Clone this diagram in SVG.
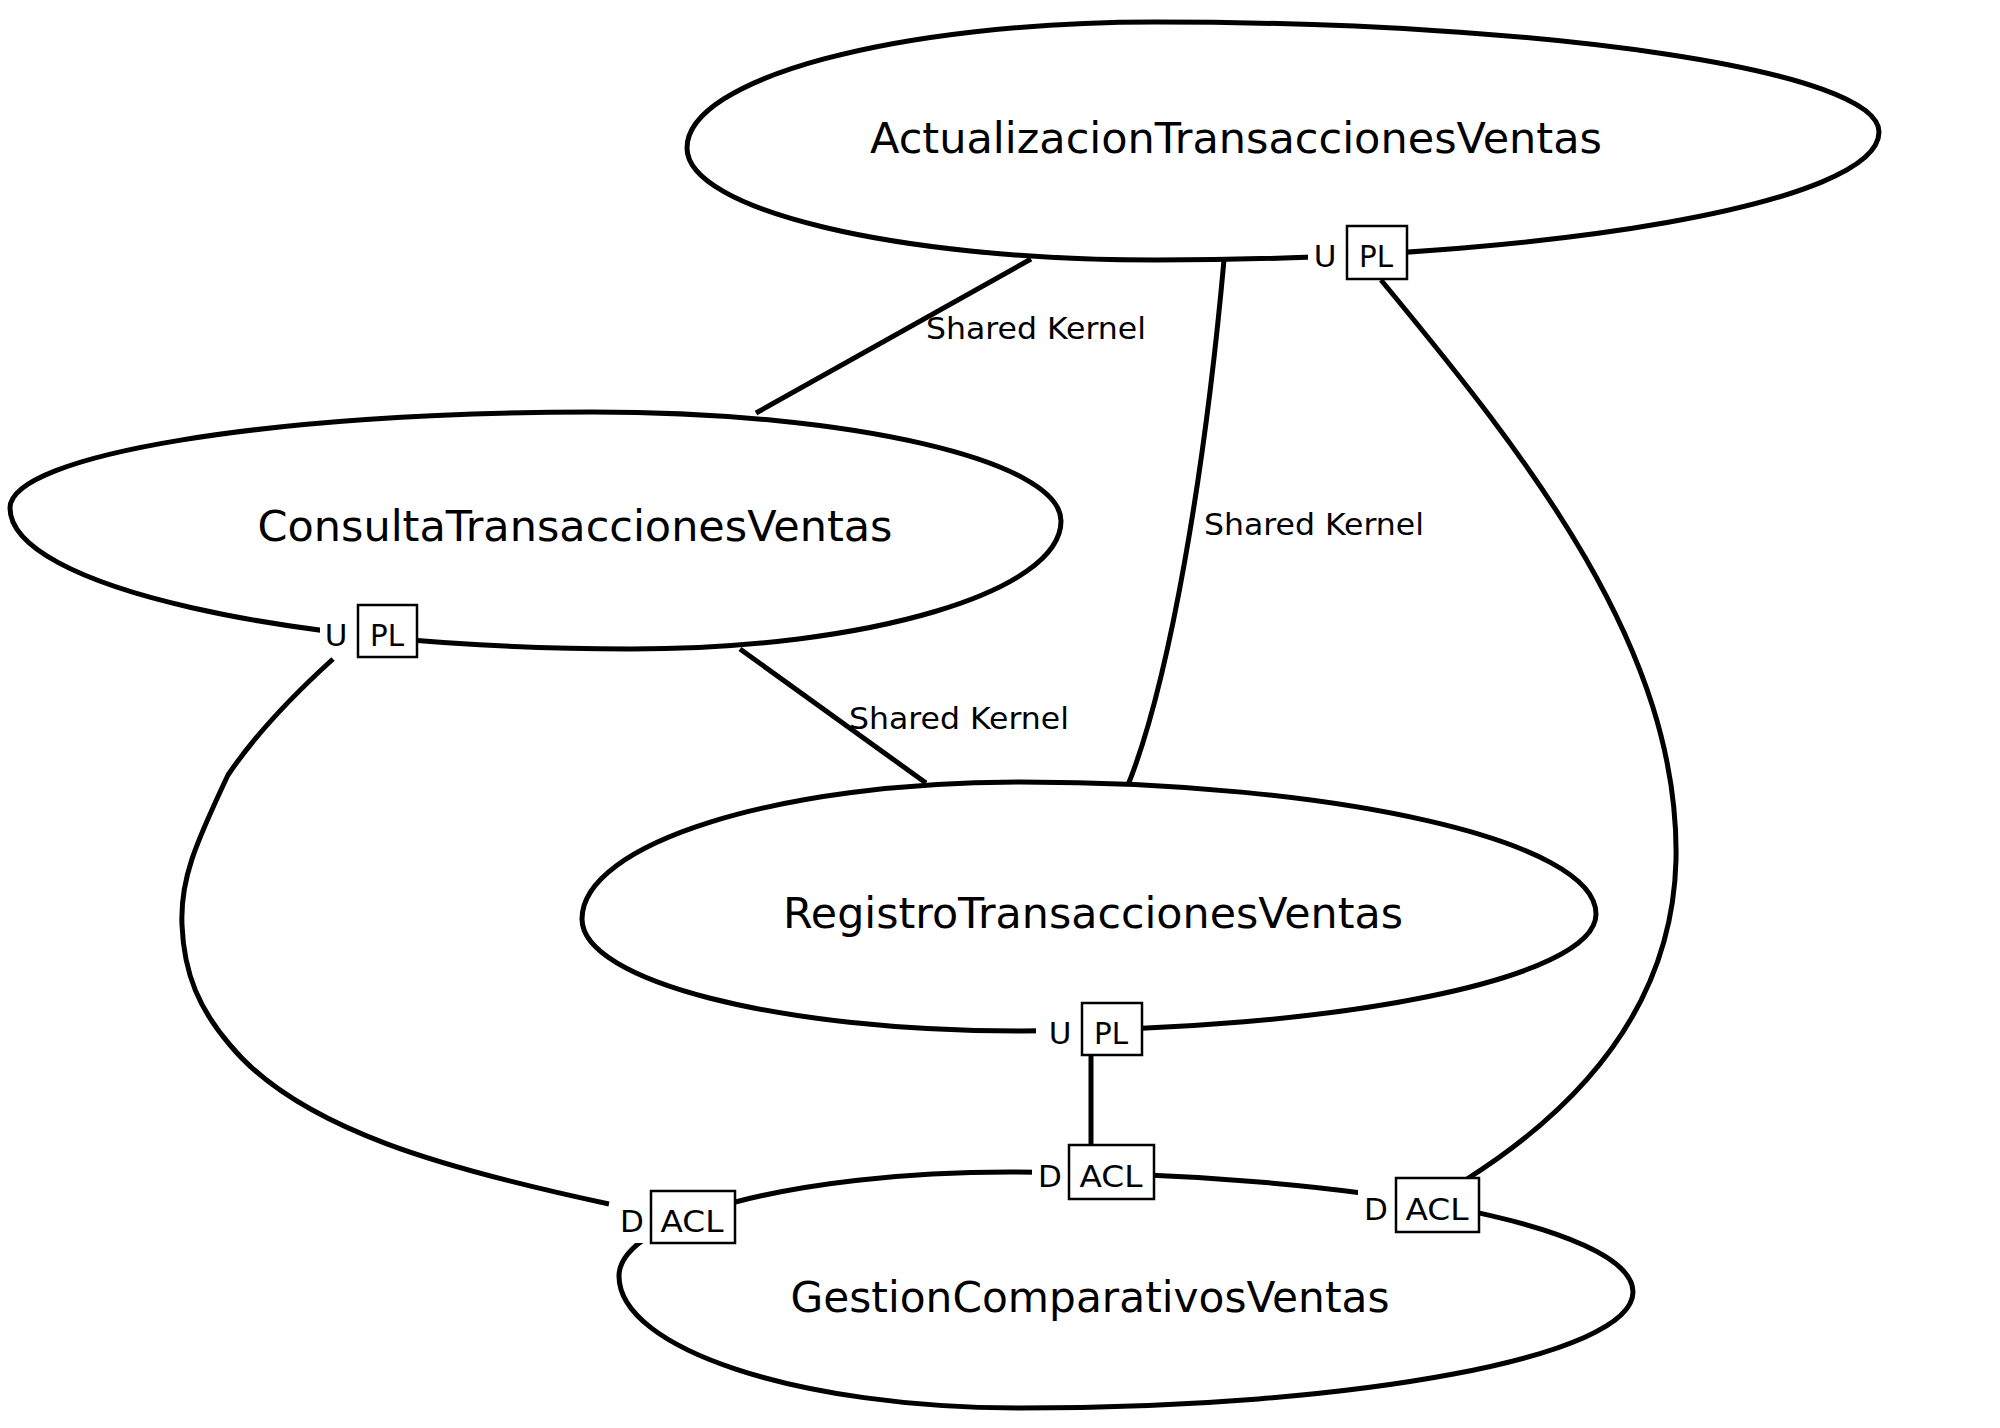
<svg xmlns="http://www.w3.org/2000/svg" width="2000" height="1428" viewBox="0 0 2000 1428">
<style>
.node{fill:#ffffff;stroke:#000000;stroke-width:5}
.edge{fill:none;stroke:#000000;stroke-width:5}
.title{font-family:"DejaVu Sans","Liberation Sans",sans-serif;font-size:42px;fill:#000000;text-anchor:middle}
.sk{font-family:"DejaVu Sans","Liberation Sans",sans-serif;font-size:30px;fill:#000000}
.lbl{font-family:"DejaVu Sans","Liberation Sans",sans-serif;font-size:31px;fill:#000000;text-anchor:middle}
.bg{fill:#ffffff;stroke:none}
.box{fill:#ffffff;stroke:#000000;stroke-width:2.5}
</style>
<rect x="0" y="0" width="2000" height="1428" fill="#ffffff"/>
<g id="connectors">
  <path class="edge" d="M1031,259 L756,413"/>
  <path class="edge" d="M1224,260 C1205,470 1170,680 1128,785"/>
  <path class="edge" d="M740,649 L926,783"/>
  <path class="edge" d="M1381,280 C1530,460 1680,650 1676,860 C1672,1020 1560,1120 1467,1179"/>
  <path class="edge" d="M333,659 C290,698 255,735 228,775 C195,845 180,880 182,925 C184,975 200,1010 230,1045 C300,1130 450,1170 609,1204"/>
  <path class="edge" d="M1091,1055 L1091,1145"/>
  <text class="sk" x="926" y="339" textLength="220" lengthAdjust="spacingAndGlyphs">Shared Kernel</text>
  <text class="sk" x="1204" y="535" textLength="220" lengthAdjust="spacingAndGlyphs">Shared Kernel</text>
  <text class="sk" x="849" y="729" textLength="220" lengthAdjust="spacingAndGlyphs">Shared Kernel</text>
</g>
<g id="node-actualizacion">
  <path class="node" d="M687,148 C687,78.4 896.5,22 1155,22 C1554.9,22 1879,71.2 1879,132 C1879,202.7 1554.9,260 1155,260 C896.5,260 687,209.9 687,148 Z"/>
  <text class="title" x="1236" y="153" textLength="732" lengthAdjust="spacingAndGlyphs">ActualizacionTransaccionesVentas</text>
</g>
<g id="node-consulta">
  <path class="node" d="M10,508 C10,455 271,412 593,412 C851.5,412 1061,460.8 1061,521 C1061,591.7 868.5,649 631,649 C288,649 10,585.9 10,508 Z"/>
  <text class="title" x="575" y="541" textLength="635" lengthAdjust="spacingAndGlyphs">ConsultaTransaccionesVentas</text>
</g>
<g id="node-registro">
  <path class="node" d="M582,919 C582,843.3 778.1,782 1020,782 C1338.1,782 1596,841.1 1596,914 C1596,978.6 1338.1,1031 1020,1031 C778.1,1031 582,980.9 582,919 Z"/>
  <text class="title" x="1093" y="928" textLength="620" lengthAdjust="spacingAndGlyphs">RegistroTransaccionesVentas</text>
</g>
<g id="node-gestion">
  <path class="node" d="M619,1276 C619,1218.6 794,1172 1010,1172 C1354.1,1172 1633,1225.7 1633,1292 C1633,1356.1 1358.6,1408 1020,1408 C798.5,1408 619,1348.9 619,1276 Z"/>
  <text class="title" x="1090" y="1312" textLength="599" lengthAdjust="spacingAndGlyphs">GestionComparativosVentas</text>
</g>
<g id="labels">
  <g id="lbl-a-pl">
    <rect class="bg" x="1308" y="226" width="99" height="53"/>
    <text class="lbl" x="1325" y="267">U</text>
    <rect class="box" x="1347" y="226" width="60" height="53"/>
    <text class="lbl" x="1376" y="267" textLength="34" lengthAdjust="spacingAndGlyphs">PL</text>
  </g>
  <g id="lbl-c-pl">
    <rect class="bg" x="320" y="605" width="97" height="52"/>
    <text class="lbl" x="336" y="646">U</text>
    <rect class="box" x="358" y="605" width="59" height="52"/>
    <text class="lbl" x="387" y="646" textLength="34" lengthAdjust="spacingAndGlyphs">PL</text>
  </g>
  <g id="lbl-r-pl">
    <rect class="bg" x="1036" y="1003" width="106" height="52"/>
    <text class="lbl" x="1060" y="1044">U</text>
    <rect class="box" x="1082" y="1003" width="60" height="52"/>
    <text class="lbl" x="1111" y="1044" textLength="34" lengthAdjust="spacingAndGlyphs">PL</text>
  </g>
  <g id="lbl-g-acl1">
    <rect class="bg" x="612" y="1191" width="123" height="52"/>
    <text class="lbl" x="632" y="1232">D</text>
    <rect class="box" x="651" y="1191" width="84" height="52"/>
    <text class="lbl" x="692" y="1232" textLength="63" lengthAdjust="spacingAndGlyphs">ACL</text>
  </g>
  <g id="lbl-g-acl2">
    <rect class="bg" x="1032" y="1145" width="122" height="54"/>
    <text class="lbl" x="1050" y="1187">D</text>
    <rect class="box" x="1069" y="1145" width="85" height="54"/>
    <text class="lbl" x="1111" y="1187" textLength="63" lengthAdjust="spacingAndGlyphs">ACL</text>
  </g>
  <g id="lbl-g-acl3">
    <rect class="bg" x="1358" y="1178" width="121" height="54"/>
    <text class="lbl" x="1376" y="1220">D</text>
    <rect class="box" x="1396" y="1178" width="83" height="54"/>
    <text class="lbl" x="1437" y="1220" textLength="63" lengthAdjust="spacingAndGlyphs">ACL</text>
  </g>
</g>
</svg>
